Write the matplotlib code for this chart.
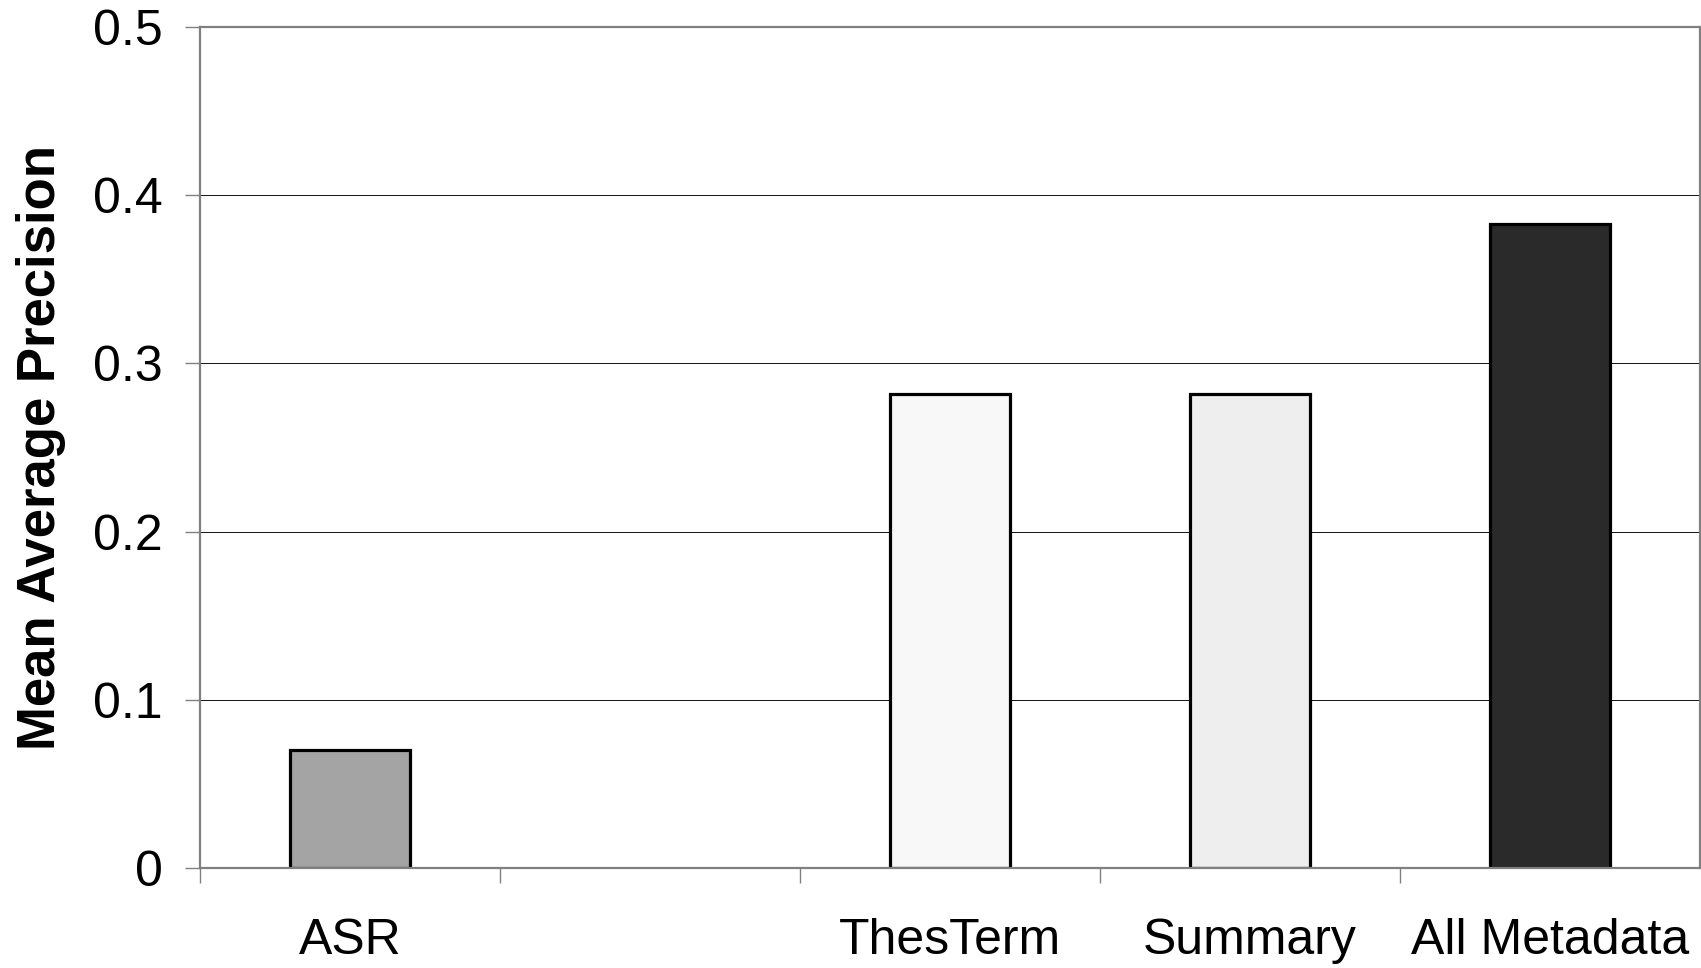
import numpy as np
import matplotlib
matplotlib.use("Agg")
import matplotlib.pyplot as plt
from matplotlib.ticker import FixedLocator

# data (second slot is empty in the original)
categories = ["ASR", "", "ThesTerm", "Summary", "All Metadata"]
map_values = [0.07, np.nan, 0.282, 0.282, 0.383]
bar_colors = ["#a4a4a4", "white", "#f8f8f8", "#eeeeee", "#2a2a2a"]
y_ticks = [0, 0.1, 0.2, 0.3, 0.4, 0.5]
y_tick_labels = ["0", "0.1", "0.2", "0.3", "0.4", "0.5"]

plt.rcParams['font.family'] = ['Liberation Sans', 'DejaVu Sans']

fig = plt.figure(figsize=(17.01, 9.68), dpi=100)
ax = fig.add_axes([0.1176, 0.1033, 0.8818, 0.8688])

x = np.arange(len(categories))
for xi, v, c in zip(x, map_values, bar_colors):
    if np.isnan(v):
        continue
    ax.bar(xi, v, width=0.4, color=c, edgecolor="black", linewidth=2.3, zorder=3)

ax.set_xlim(-0.5, len(categories) - 0.5)
ax.set_ylim(0, 0.5)

# grid and spines
ax.set_yticks(y_ticks)
ax.set_yticklabels(y_tick_labels, fontsize=36)
ax.yaxis.grid(True, color="#111111", linewidth=0.7, zorder=0)
for s in ax.spines.values():
    s.set_color("#808080")
    s.set_linewidth(1.6)
    s.set_zorder(4)

# category labels at slot centres, tick marks at slot boundaries
ax.set_xticks(x)
ax.set_xticklabels(categories, fontsize=36)
ax.tick_params(axis="x", which="major", length=0, pad=36)
ax.xaxis.set_minor_locator(FixedLocator(np.arange(-0.5, len(categories) - 0.5, 1.0)))
ax.tick_params(axis="x", which="minor", length=11, width=1.0, color="#808080", direction="out")
ax.tick_params(axis="y", length=11, width=1.0, color="#808080", direction="out", pad=16)

ax.set_ylabel("Mean Average Precision", fontsize=38, fontweight="bold", labelpad=19)

fig.savefig("out.png", dpi=100)
